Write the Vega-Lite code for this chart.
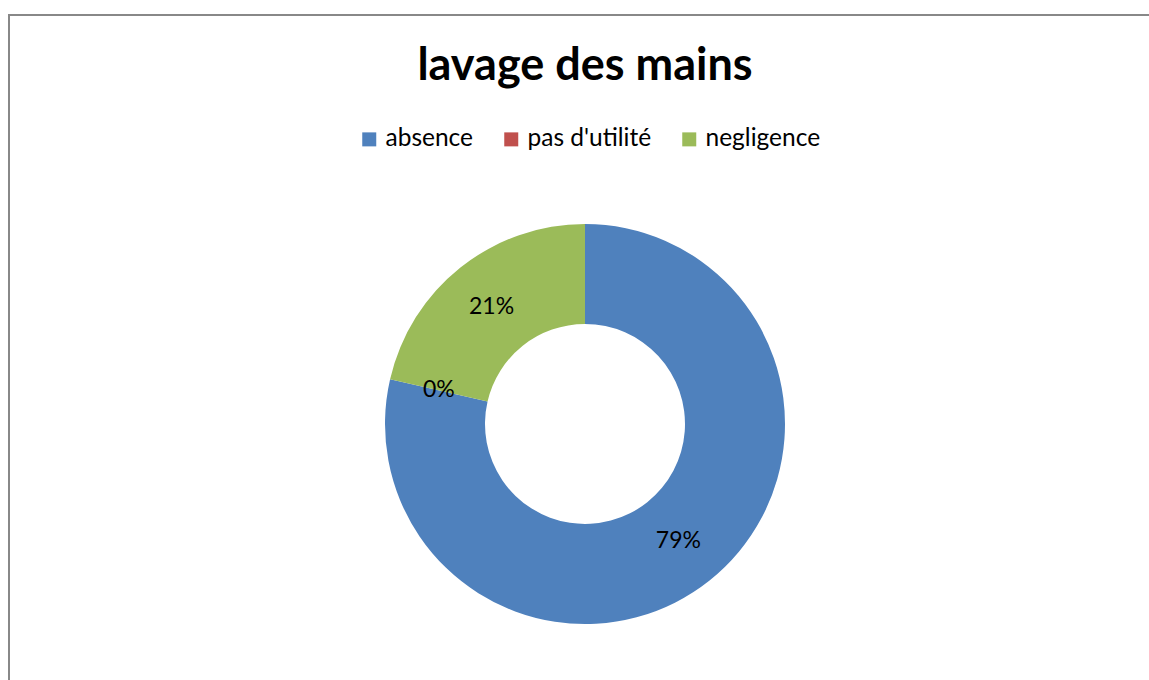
{
  "$schema": "https://vega.github.io/schema/vega-lite/v6.json",
  "autosize": "none",
  "width": 1152,
  "height": 818,
  "padding": {"left": 9, "top": 15, "right": 0, "bottom": 0},
  "background": "white",
  "view": {"stroke": "#888888", "strokeWidth": 2},
  "config": {"view": {"stroke": "#888888", "strokeWidth": 2}},
  "title": {
    "text": "lavage des mains",
    "font": "Lato",
    "fontSize": 45,
    "fontWeight": "bold",
    "color": "#000000",
    "anchor": "middle",
    "orient": "top",
    "offset": 0,
    "baseline": "alphabetic",
    "dy": 110
  },
  "data": {
    "values": [
      {"categorie": "absence", "part": 0.786, "ordre": 1},
      {"categorie": "pas d'utilité", "part": 0.0, "ordre": 2},
      {"categorie": "negligence", "part": 0.214, "ordre": 3}
    ]
  },
  "encoding": {
    "theta": {"field": "part", "type": "quantitative", "stack": true},
    "order": {"field": "ordre", "type": "quantitative"}
  },
  "layer": [
    {
      "mark": {"type": "arc", "innerRadius": 100, "outerRadius": 200},
      "encoding": {
        "color": {
          "field": "categorie",
          "type": "nominal",
          "scale": {
            "domain": ["absence", "pas d'utilité", "negligence"],
            "range": ["#4F81BD", "#C0504D", "#9BBB59"]
          },
          "legend": {
            "orient": "none",
            "legendX": 348,
            "legendY": 112,
            "direction": "horizontal",
            "title": null,
            "symbolType": "square",
            "symbolSize": 196,
            "symbolStrokeWidth": 0,
            "labelFont": "Lato",
            "labelFontSize": 24.5,
            "labelColor": "#000000",
            "labelOffset": 4,
            "columnPadding": 25
          }
        }
      }
    },
    {
      "mark": {"type": "text", "radius": 150, "font": "Lato", "fontSize": 23, "color": "#000000"},
      "encoding": {
        "detail": {"field": "categorie", "type": "nominal"},
        "text": {"field": "part", "type": "quantitative", "format": ".0%"}
      }
    }
  ]
}
